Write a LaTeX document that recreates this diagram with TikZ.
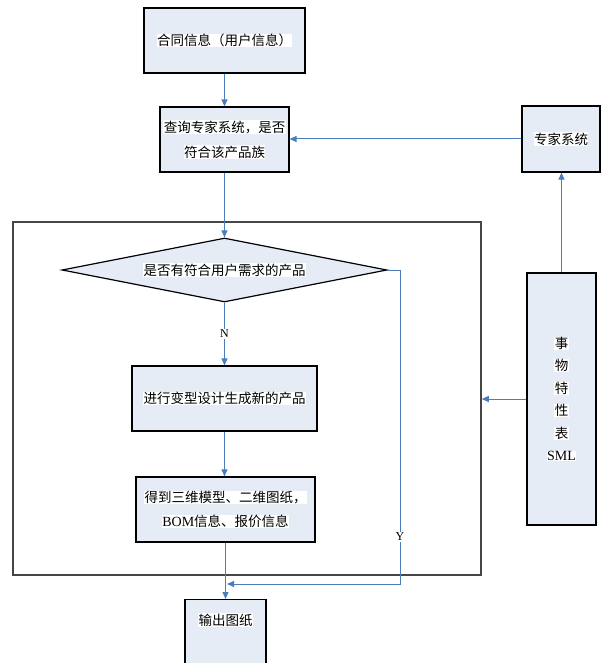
\documentclass[tikz,border=0pt]{standalone}
\usepackage{fontspec}
\setmainfont{Liberation Serif}
\newfontfamily\cjk{Noto Sans CJK SC}
\usetikzlibrary{shapes.geometric,arrows.meta}
\definecolor{boxfill}{RGB}{230,236,246}
\definecolor{arrblue}{RGB}{74,126,187}
\definecolor{framegray}{RGB}{70,70,70}
\setlength{\fboxsep}{0.4pt}
\newcommand\wb[1]{\colorbox{white}{#1}}
\tikzset{
  box/.style={draw=black, line width=1.2pt, fill=boxfill, rectangle, inner sep=0pt,
    font=\cjk\fontsize{13.5}{25}\selectfont, align=center},
  arr/.style={draw=arrblue, line width=1pt, -{Triangle[length=7pt,width=6pt]}},
  lnk/.style={draw=arrblue, line width=1pt},
  lbl/.style={fill=white, inner sep=1pt, font=\fontsize{12}{14}\selectfont}
}
\begin{document}
\begin{tikzpicture}[x=1pt,y=-1pt]
\useasboundingbox (0,0) rectangle (606,663);
\clip (0,0) rectangle (606,663);
% outer frame
\node[draw=framegray, line width=1.5pt, minimum width=468, minimum height=353, inner sep=0pt] (frame) at (247,398.5) {};
% boxes
\node[box, minimum width=161, minimum height=65] (info) at (224.5,40.5) {\wb{合同信息（用户信息）}};
\node[box, minimum width=129, minimum height=65] (query) at (224.5,139.5) {\wb{查询专家系统，是否}\\\wb{符合该产品族}};
\node[box, minimum width=78, minimum height=66] (expert) at (561,139) {\wb{专家系统}};
\node[box, minimum width=69, minimum height=252, font=\cjk\fontsize{13.5}{22.5}\selectfont] (sml) at (561.5,399)
  {\wb{事}\\\wb{物}\\\wb{特}\\\wb{性}\\\wb{表}\\\wb{\rmfamily\fontsize{14}{22.5}\selectfont SML}};
\node[box, shape=diamond, aspect=5, minimum width=325, minimum height=64] (dia) at (224.5,270) {\wb{是否有符合用户需求的产品}};
\node[box, minimum width=185, minimum height=65] (proc) at (224.5,398.5) {\wb{进行变型设计生成新的产品}};
\node[box, minimum width=179, minimum height=65, font=\cjk\fontsize{13.5}{24}\selectfont] (result) at (225.5,509.5)
  {\wb{得到三维模型、二维图纸，}\\\wb{{\rmfamily\fontsize{14}{24}\selectfont BOM}信息、报价信息}};
\node[box, minimum width=81, minimum height=100, anchor=north] (out) at (225.5,599) {};
\node[font=\cjk\fontsize{13.5}{16}\selectfont, inner sep=0pt] (outtext) at (225.5,620) {\wb{输出图纸}};
% connectors
\draw[arr] (info.south) -- (query.north);
\draw[arr] (expert.west) -- (query.east |- expert.west);
\draw[arr] (query.south) -- (dia.north);
\draw[arr] (sml.north) -- (expert.south -| sml.north);
\draw[arr] (sml.west) -- (sml.west -| frame.east);
\draw[arr] (dia.south) -- node[lbl] (nlbl) {N} (proc.north);
\draw[arr] (proc.south) -- (proc.south |- result.north);
\draw[arr] (result.south -| out.north) -- (out.north);
\coordinate (ycorner) at (400,584);
\coordinate (yend) at (227,584);
\draw[arr] (dia.east) -| (ycorner) -- (yend);
\node[lbl] (ylbl) at (400,537) {Y};
\end{tikzpicture}
\end{document}
